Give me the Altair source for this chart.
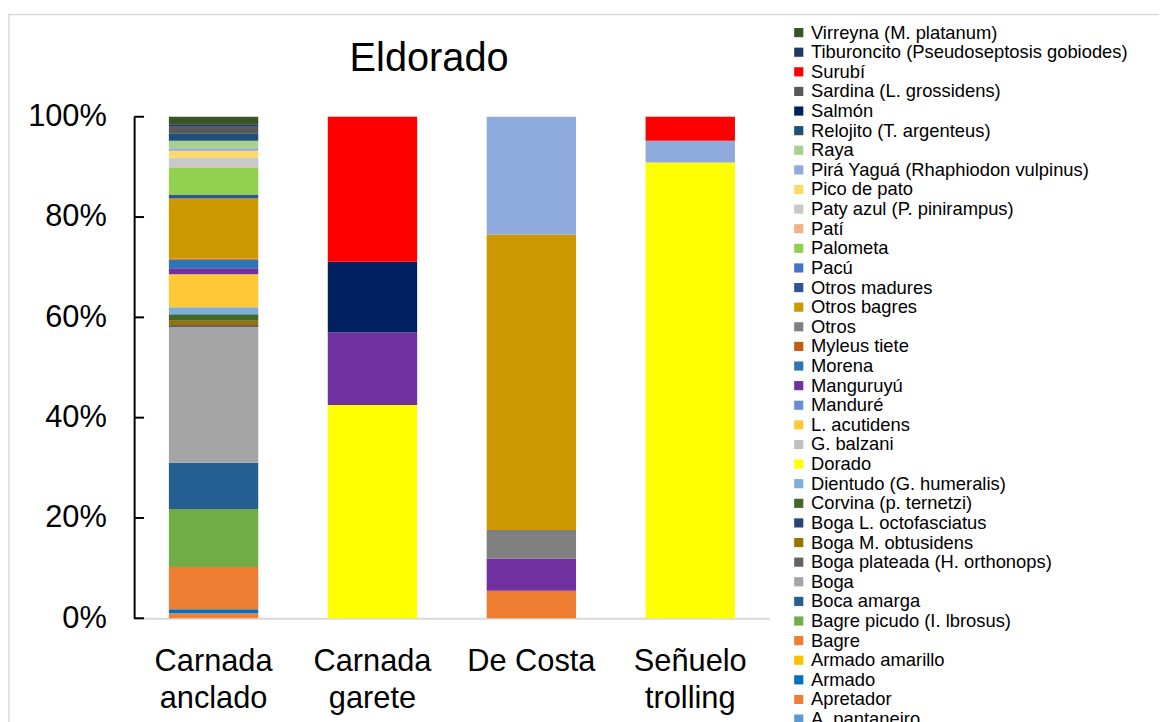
import altair as alt
import pandas as pd

# Legend order (top to bottom); stacking order is the reverse (A. pantaneiro at bottom)
species = [
    "Virreyna (M. platanum)", "Tiburoncito (Pseudoseptosis gobiodes)", "Surubí",
    "Sardina (L. grossidens)", "Salmón", "Relojito (T. argenteus)", "Raya",
    "Pirá Yaguá (Rhaphiodon vulpinus)", "Pico de pato", "Paty azul (P. pinirampus)",
    "Patí", "Palometa", "Pacú", "Otros madures", "Otros bagres", "Otros",
    "Myleus tiete", "Morena", "Manguruyú", "Manduré", "L. acutidens", "G. balzani",
    "Dorado", "Dientudo (G. humeralis)", "Corvina (p. ternetzi)",
    "Boga L. octofasciatus", "Boga M. obtusidens", "Boga plateada (H. orthonops)",
    "Boga", "Boca amarga", "Bagre picudo (I. lbrosus)", "Bagre", "Armado amarillo",
    "Armado", "Apretador", "A. pantaneiro",
]
colors = [
    "#375623", "#203864", "#FF0000", "#595959", "#002060", "#1F4E79", "#A9D18E",
    "#8FAADC", "#FFD966", "#C9C9C9", "#F4B183", "#92D050", "#4472C4", "#2F5597",
    "#CC9900", "#808080", "#C55A11", "#2E75B6", "#7030A0", "#698ED0", "#FFC936",
    "#BFBFBF", "#FFFF00", "#7CAFDD", "#43682B", "#264478", "#997300", "#636363",
    "#A5A5A5", "#255E91", "#70AD47", "#ED7D31", "#FFC000", "#0070C0", "#EE7F36",
    "#5B9BD5",
]

methods = ["Carnada\nanclado", "Carnada\ngarete", "De Costa", "Señuelo\ntrolling"]

anclado_species = [
    "Apretador", "Armado", "Bagre", "Bagre picudo (I. lbrosus)", "Boca amarga", "Boga",
    "Boga plateada (H. orthonops)", "Boga M. obtusidens", "Corvina (p. ternetzi)",
    "Dientudo (G. humeralis)", "L. acutidens", "Manguruyú", "Morena", "Myleus tiete",
    "Otros bagres", "Otros madures", "Palometa", "Patí", "Paty azul (P. pinirampus)",
    "Pico de pato", "Pirá Yaguá (Rhaphiodon vulpinus)", "Raya", "Relojito (T. argenteus)",
    "Sardina (L. grossidens)", "Tiburoncito (Pseudoseptosis gobiodes)", "Virreyna (M. platanum)",
]
anclado_values = [
    1.0, 0.8, 8.4, 11.6, 9.2, 27.1, 0.4, 0.8, 1.3, 1.4, 6.6, 1.2, 1.7, 0.2,
    12.0, 0.7, 5.5, 0.1, 1.9, 1.3, 0.5, 1.5, 1.5, 1.3, 0.5, 1.5,
]

garete_species = ["Dorado", "Manguruyú", "Salmón", "Surubí"]
garete_values = [42.5, 14.5, 14.1, 28.9]

costa_species = ["Bagre", "Manguruyú", "Otros", "Otros bagres", "Pirá Yaguá (Rhaphiodon vulpinus)"]
costa_values = [5.5, 6.4, 5.7, 58.9, 23.5]

trolling_species = ["Dorado", "Pirá Yaguá (Rhaphiodon vulpinus)", "Surubí"]
trolling_values = [90.9, 4.3, 4.8]

tick_values = [0, 0.2, 0.4, 0.6, 0.8, 1.0]
chart_title = "Eldorado"

rows = []
for m, sp, vals in zip(methods,
                       [anclado_species, garete_species, costa_species, trolling_species],
                       [anclado_values, garete_values, costa_values, trolling_values]):
    for s, v in zip(sp, vals):
        rows.append({"method": m, "species": s, "value": v,
                     "order": len(species) - species.index(s)})
df = pd.DataFrame(rows)

FONT = "Liberation Sans"

y_axis = alt.Axis(title=None, values=tick_values, format=".0%", labelFontSize=31,
                  labelFont=FONT, labelColor="black", labelPadding=28,
                  ticks=False, grid=False, domainColor="black", domainWidth=2)

x_enc = alt.X("method:N", sort=methods,
              scale=alt.Scale(paddingInner=0.4375, paddingOuter=0.21875),
              axis=alt.Axis(title=None, labelAngle=0, labelFontSize=31, labelFont=FONT,
                            labelColor="black", labelLineHeight=37, labelPadding=29,
                            labelExpr="split(datum.label, '\\n')", ticks=False,
                            domainColor="#D9D9D9", domainWidth=2))

bars = alt.Chart(df).mark_bar().encode(
    x=x_enc,
    y=alt.Y("value:Q", stack="normalize", axis=y_axis),
    color=alt.Color("species:N", scale=alt.Scale(domain=species, range=colors),
                    legend=alt.Legend(title=None, orient="none", legendX=660, legendY=-94,
                                      symbolType="square", symbolSize=85,
                                      symbolStrokeWidth=0, labelFontSize=18.5,
                                      labelFont=FONT, labelColor="black", labelLimit=500,
                                      rowPadding=0.75, labelOffset=3, symbolLimit=60)),
    order=alt.Order("order:Q", sort="ascending"),
)

ticks = alt.Chart(pd.DataFrame({"v": tick_values})).mark_rule(
    color="black", strokeWidth=2
).encode(
    y=alt.Y("v:Q", axis=y_axis),
    x=alt.value(0), x2=alt.value(10),
)

frame = alt.Chart(pd.DataFrame({"a": [0]})).mark_rect(
    fill=None, stroke="#D9D9D9", strokeWidth=1.5, clip=False
).encode(
    x=alt.value(-126), x2=alt.value(1100), y=alt.value(-103), y2=alt.value(800),
)

title = alt.Chart(pd.DataFrame({"t": [chart_title]})).mark_text(
    font=FONT, fontSize=40, color="black", baseline="middle", align="center"
).encode(
    text="t:N", x=alt.value(297), y=alt.value(-58),
)

chart = alt.layer(frame, bars, ticks, title).properties(
    width=640, height=505,
    autosize=alt.AutoSizeParams(type="none"),
    padding={"left": 127, "top": 107, "right": 392, "bottom": 110},
).configure_view(stroke=None)

chart.save("out.html", embed_options={"renderer": "svg", "actions": False})
